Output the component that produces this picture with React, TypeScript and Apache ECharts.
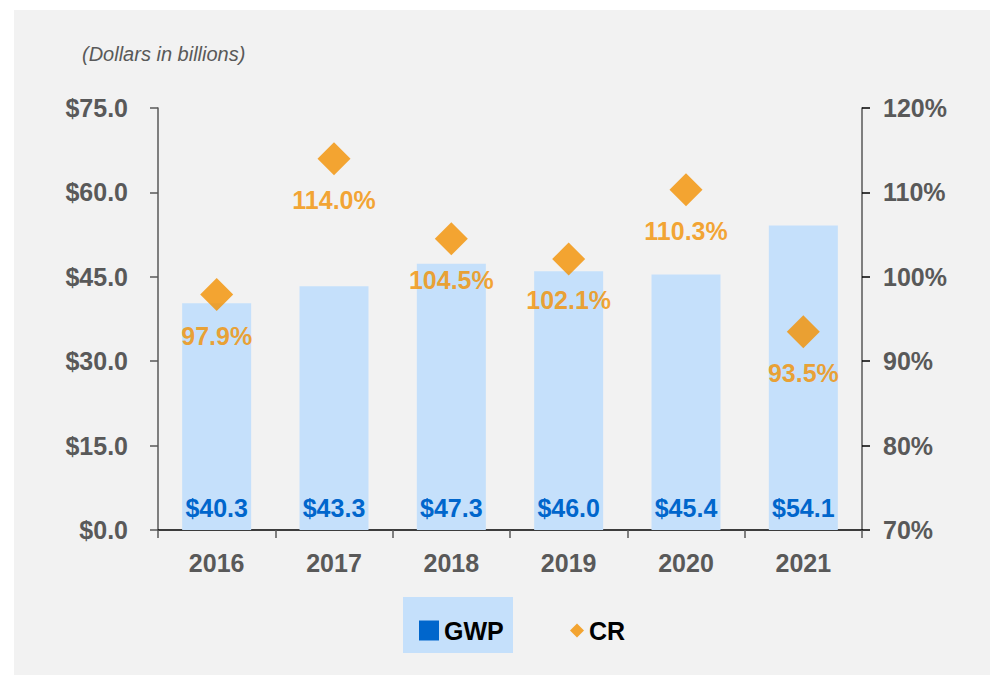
import React, { useEffect, useRef } from "react";
import * as echarts from "echarts";

const years = ["2016", "2017", "2018", "2019", "2020", "2021"];
const gwp = [40.3, 43.3, 47.3, 46.0, 45.4, 54.1];
const cr = [97.9, 114.0, 104.5, 102.1, 110.3, 93.5];
const subtitle = "(Dollars in billions)";

const FONT = "'Liberation Sans', Arial, sans-serif";
const GRAY = "#595959";
const BAR = "#c5e0fb";
const BLUE = "#0066cc";
const ORANGE = "#f29000";

export default function App() {
  const ref = useRef<HTMLDivElement>(null);
  useEffect(() => {
    if (!ref.current) return;
    const chart = echarts.init(ref.current, undefined, { renderer: "svg" });
    chart.setOption({
      animation: false,
      backgroundColor: "#f2f2f2",
      textStyle: { fontFamily: FONT },
      grid: { left: 144, right: 128, top: 98, bottom: 145, containLabel: false },
      graphic: [
        {
          type: "text",
          left: 68,
          top: 34,
          style: { text: subtitle, fontFamily: FONT, fontSize: 20, fontStyle: "italic", fill: GRAY },
        },
        {
          type: "rect",
          z: 0,
          shape: { x: 389, y: 587, width: 110, height: 56 },
          style: { fill: BAR },
        },
      ],
      legend: [
        {
          data: [{ name: "GWP", icon: "rect", itemStyle: { color: BLUE } }],
          left: 400,
          top: 603,
          itemWidth: 20,
          itemHeight: 20,
          selectedMode: false,
          textStyle: { fontFamily: FONT, fontSize: 25, fontWeight: "bold", color: "#000" },
        },
        {
          data: [{ name: "CR", icon: "diamond", itemStyle: { color: ORANGE } }],
          left: 551,
          top: 603,
          itemWidth: 14,
          itemHeight: 14,
          selectedMode: false,
          textStyle: { fontFamily: FONT, fontSize: 25, fontWeight: "bold", color: "#000" },
        },
      ],
      xAxis: {
        type: "category",
        data: years,
        axisLine: { lineStyle: { color: "#000", width: 1.5 } },
        axisTick: { show: true, length: 8, lineStyle: { color: GRAY, width: 1.5 } },
        axisLabel: { color: GRAY, fontSize: 25, fontWeight: "bold", margin: 20, fontFamily: FONT },
      },
      yAxis: [
        {
          type: "value",
          min: 0,
          max: 75,
          interval: 15,
          axisLine: { show: true, lineStyle: { color: GRAY, width: 1.5 } },
          axisTick: { show: true, length: 8, lineStyle: { color: GRAY, width: 1.5 } },
          splitLine: { show: false },
          axisLabel: {
            color: GRAY,
            fontSize: 25,
            fontWeight: "bold",
            margin: 30,
            fontFamily: FONT,
            formatter: (v: number) => "$" + v.toFixed(1),
          },
        },
        {
          type: "value",
          min: 70,
          max: 120,
          interval: 10,
          position: "right",
          axisLine: { show: true, lineStyle: { color: GRAY, width: 1.5 } },
          axisTick: { show: true, length: 8, lineStyle: { color: "#000", width: 1.5 } },
          splitLine: { show: false },
          axisLabel: {
            color: GRAY,
            fontSize: 25,
            fontWeight: "bold",
            margin: 21,
            fontFamily: FONT,
            formatter: (v: number) => v + "%",
          },
        },
      ],
      series: [
        {
          name: "GWP",
          type: "bar",
          data: gwp,
          barWidth: 69,
          itemStyle: { color: BAR },
          label: {
            show: true,
            position: "insideBottom",
            distance: 10,
            color: BLUE,
            fontSize: 25,
            fontWeight: "bold",
            fontFamily: FONT,
            formatter: (p: any) => "$" + p.value.toFixed(1),
          },
        },
        {
          name: "CR",
          type: "scatter",
          yAxisIndex: 1,
          data: cr,
          symbol: "diamond",
          symbolSize: 33,
          itemStyle: { color: ORANGE },
          label: {
            show: true,
            position: "bottom",
            distance: 12,
            color: ORANGE,
            fontSize: 25,
            fontWeight: "bold",
            fontFamily: FONT,
            formatter: (p: any) => p.value.toFixed(1) + "%",
          },
        },
      ],
    });
    return () => chart.dispose();
  }, []);
  return (
    <div style={{ position: "absolute", left: 0, top: 0, width: 990, height: 675, background: "#fff" }}>
      <div ref={ref} style={{ position: "absolute", left: 14, top: 10, width: 976, height: 665 }} />
    </div>
  );
}
